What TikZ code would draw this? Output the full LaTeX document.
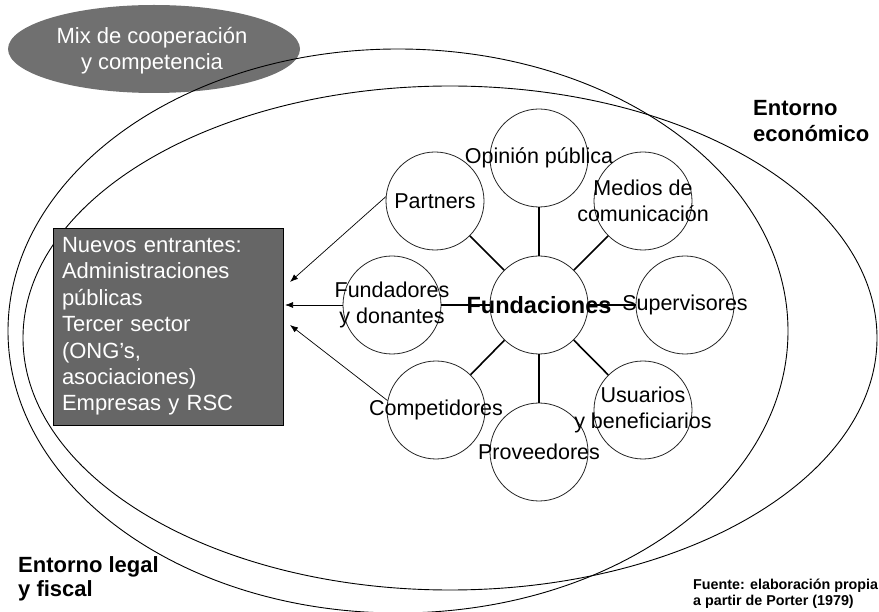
\documentclass[tikz,border=0pt]{standalone}
\usepackage{fontspec}
\setmainfont{Liberation Sans}
\usetikzlibrary{arrows.meta, positioning}
\definecolor{grisosc}{RGB}{102,102,102}
\definecolor{grisel}{RGB}{112,112,112}

\begin{document}
\begin{tikzpicture}[x=1pt, y=-1pt,
    actor/.style={circle, draw=black!85, line width=0.8pt, minimum size=98pt, inner sep=0pt},
    lbl/.style={font=\fontsize{21.5}{25.5}\selectfont, align=center, inner sep=0pt},
    entorno/.style={font=\bfseries\fontsize{22}{24}\selectfont, align=left, inner sep=0pt, anchor=north west},
    spoke/.style={line width=1.6pt},
    flecha/.style={-{Latex[length=8pt,width=6pt]}, line width=0.7pt}]
    \useasboundingbox (0,0) rectangle (879,612);
    % mix de cooperación
    \fill[grisel] (154,49) ellipse [x radius=146pt, y radius=44pt];
    \node[lbl, text=white, font=\fontsize{22}{26}\selectfont] (mix) at (152,51) {Mix de cooperación\\y competencia};
    % entornos
    \draw[line width=0.9pt] (398,331) ellipse [x radius=390pt, y radius=282pt];
    \draw[line width=0.9pt] (450,338) ellipse [x radius=427pt, y radius=252pt];
    \node[entorno] (econ) at (753,100) {Entorno\\[2pt]económico};
    \node[entorno] (legal) at (18,556) {Entorno legal\\y fiscal};
    % nuevos entrantes
    \node[draw, fill=grisosc, text=white, anchor=north west, outer sep=0pt,
          minimum width=230pt, minimum height=197pt, text width=212pt, inner xsep=9pt,
          align=left, font=\fontsize{22}{26.4}\selectfont] (nuevos) at (53,228)
          {Nuevos entrantes:\\Administraciones\\públicas\\Tercer sector\\(ONG’s,\\asociaciones)\\Empresas y RSC};
    % actores
    \node[actor] (fund) at (539,305) {};
    \node[actor] (opinion) at (539,158) {};
    \node[actor] (medios) at (643,201) {};
    \node[actor] (superv) at (685,305) {};
    \node[actor] (usuarios) at (643,410) {};
    \node[actor] (proveed) at (539,452) {};
    \node[actor] (compet) at (436,410) {};
    \node[actor] (fundad) at (392,305) {};
    \node[actor] (partners) at (435,201) {};
    \foreach \s in {opinion, medios, superv, usuarios, proveed, compet, fundad, partners}
        \draw[spoke] (fund) -- (\s);
    \node[lbl, font=\bfseries\fontsize{23.5}{26}\selectfont] (tfund) at (fund) {Fundaciones};
    \node[lbl] (topinion) at (opinion) {Opinión pública};
    \node[lbl] (tmedios) at (medios) {Medios de\\comunicación};
    \node[lbl] (tsuperv) at (superv) {Supervisores};
    \node[lbl] (tusuarios) at (usuarios) {Usuarios\\y beneficiarios};
    \node[lbl] (tproveed) at (proveed) {Proveedores};
    \node[lbl] (tcompet) at (compet) {Competidores};
    \node[lbl] (tfundad) at (fundad) {Fundadores\\y donantes};
    \node[lbl] (tpartners) at (partners) {Partners};
    % flechas hacia nuevos entrantes
    \coordinate (a1) at (290,282);
    \coordinate (a2) at (285,305);
    \coordinate (a3) at (290,325);
    \draw[flecha] (partners.175) -- (a1);
    \draw[flecha] (fundad.west) -- (a2);
    \draw[flecha] (compet.169) -- (a3);
    % fuente
    \node[font=\bfseries\fontsize{14.3}{15.5}\selectfont, align=left, inner sep=0pt, anchor=north west]
        (fuente) at (693,579) {Fuente: elaboración propia\\a partir de Porter (1979)};
\end{tikzpicture}
\end{document}
